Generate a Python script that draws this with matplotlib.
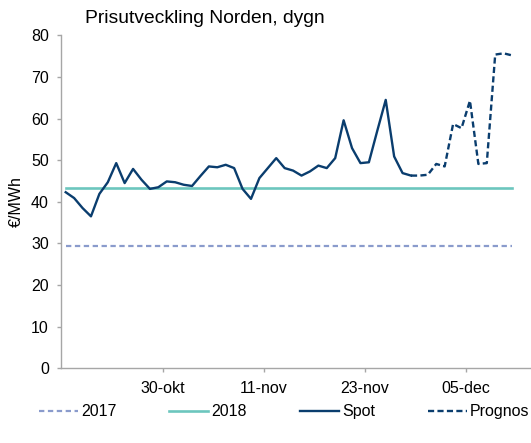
import numpy as np
import matplotlib
matplotlib.use("Agg")
import matplotlib.pyplot as plt

plt.rcParams['font.family'] = ['Liberation Sans', 'DejaVu Sans']

# dagliga värden, €/MWh
spot = [42.3, 40.9, 38.5, 36.5, 41.9, 44.7, 49.3, 44.5, 47.9, 45.3,
        43.1, 43.5, 44.9, 44.7, 44.1, 43.8, 46.2, 48.5, 48.3, 48.9,
        48.1, 43.1, 40.7, 45.7, 48.1, 50.5, 48.1, 47.5, 46.3, 47.3,
        48.7, 48.1, 50.5, 59.6, 52.9, 49.3, 49.5, 57.1, 64.5, 50.9,
        46.9, 46.3]
prognos = [46.3, 46.3, 46.5, 49.1, 48.5, 58.7, 57.7, 64.3, 49.1, 49.3,
           75.4, 75.7, 75.2]
snitt_2017 = 29.4
snitt_2018 = 43.2
tick_labels = ['30-okt', '11-nov', '23-nov', '05-dec']

n = len(spot) + len(prognos) - 1
x_all = np.arange(n)
x_spot = np.arange(len(spot))
x_prog = np.arange(len(spot) - 1, n)

navy = '#0a3d6e'
teal = '#6cc6be'
lav = '#8a9bcc'
fs = 11.5

fig = plt.figure(figsize=(5.31, 4.43), dpi=100)
ax = fig.add_axes([0.1158, 0.169, 0.8842, 0.751])

ax.plot(x_all, [snitt_2017] * n, color=lav, lw=1.6, dashes=(2.4, 1.6), label='2017')
ax.plot(x_all, [snitt_2018] * n, color=teal, lw=1.9, label='2018')
ax.plot(x_spot, spot, color=navy, lw=1.7, label='Spot')
ax.plot(x_prog, prognos, color=navy, lw=1.7, dashes=(2.6, 1.4), label='Prognos')

ax.set_xlim(-0.5, 55.25)
ax.set_ylim(0, 80)
ax.set_yticks(range(0, 81, 10))
ax.set_xticks([11.5, 23.5, 35.5, 47.5])
ax.set_xticklabels(tick_labels)

for s in ['top', 'right']:
    ax.spines[s].set_visible(False)
for s in ['left', 'bottom']:
    ax.spines[s].set_color('#a6a6a6')
    ax.spines[s].set_linewidth(1.0)
ax.tick_params(axis='both', colors='#a6a6a6', labelcolor='black', labelsize=fs,
               direction='out', length=3, width=1)
ax.tick_params(axis='y', pad=6)
ax.tick_params(axis='x', pad=6)

ax.set_ylabel('€/MWh', fontsize=fs, labelpad=5)
fig.text(0.16, 0.958, 'Prisutveckling Norden, dygn', fontsize=13.9, va='center', ha='left')

fig.legend(loc='center left', bbox_to_anchor=(0.061, 0.07), ncol=4, frameon=False,
           fontsize=fs, handlelength=2.45, handletextpad=0.2, columnspacing=3.3,
           borderaxespad=0)

fig.savefig('out.png', dpi=100)
